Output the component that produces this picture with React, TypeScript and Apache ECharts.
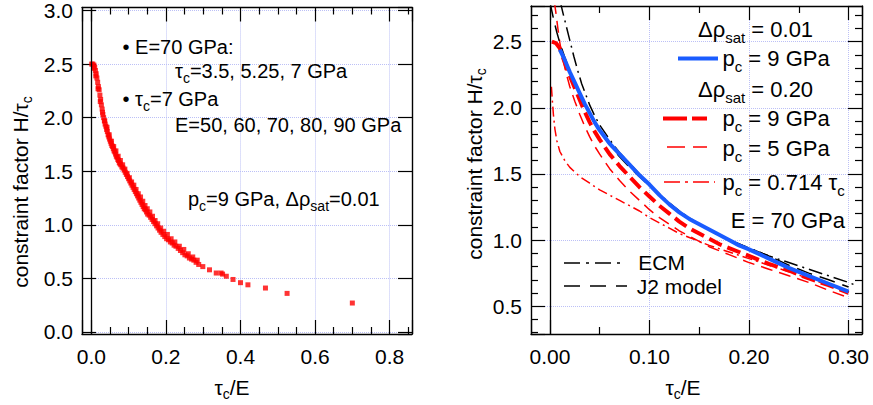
import React, { useEffect, useRef } from 'react';
import * as echarts from 'echarts';

const FONT = '"Liberation Sans", Arial, Helvetica, sans-serif';

const scatterPoints: [number, number][] = [
  [0.001, 2.50], [0.004, 2.50], [0.007, 2.49], [0.009, 2.47], [0.011, 2.44], [0.013, 2.41], [0.015, 2.37],
  [0.017, 2.33], [0.019, 2.29], [0.021, 2.26], [0.023, 2.21], [0.025, 2.17], [0.027, 2.12], [0.029, 2.08],
  [0.031, 2.03], [0.033, 2.00], [0.035, 1.97], [0.037, 1.94], [0.039, 1.92], [0.041, 1.89], [0.043, 1.87],
  [0.045, 1.84], [0.047, 1.82], [0.049, 1.80], [0.051, 1.78], [0.053, 1.76], [0.055, 1.74], [0.057, 1.73],
  [0.059, 1.71], [0.061, 1.69], [0.063, 1.68], [0.065, 1.66], [0.067, 1.64], [0.069, 1.63], [0.071, 1.61],
  [0.073, 1.60], [0.075, 1.58], [0.077, 1.57], [0.079, 1.56], [0.082, 1.54], [0.085, 1.53], [0.088, 1.51],
  [0.091, 1.49], [0.094, 1.47], [0.097, 1.45], [0.100, 1.43], [0.103, 1.41], [0.106, 1.39], [0.109, 1.37],
  [0.112, 1.35], [0.115, 1.33], [0.118, 1.31], [0.121, 1.29], [0.124, 1.27], [0.127, 1.25], [0.130, 1.23],
  [0.133, 1.21], [0.136, 1.19], [0.139, 1.17], [0.142, 1.15], [0.145, 1.14], [0.148, 1.12], [0.151, 1.10],
  [0.155, 1.09], [0.159, 1.07], [0.163, 1.05], [0.167, 1.03], [0.171, 1.01], [0.175, 0.99], [0.179, 0.97],
  [0.183, 0.95], [0.187, 0.93], [0.192, 0.91], [0.197, 0.89], [0.202, 0.87], [0.207, 0.86], [0.212, 0.84],
  [0.217, 0.83], [0.222, 0.81], [0.227, 0.80], [0.233, 0.78], [0.239, 0.76], [0.245, 0.74], [0.251, 0.72],
  [0.257, 0.71], [0.263, 0.69], [0.269, 0.68], [0.275, 0.67], [0.281, 0.65], [0.288, 0.63], [0.299, 0.61],
  [0.317, 0.58], [0.335, 0.55], [0.348, 0.55], [0.352, 0.54], [0.362, 0.52], [0.380, 0.49], [0.400, 0.46],
  [0.420, 0.44], [0.467, 0.41], [0.525, 0.36], [0.700, 0.27],
  [0.006, 2.46], [0.012, 2.39], [0.018, 2.27], [0.024, 2.15], [0.030, 2.05], [0.036, 1.97], [0.042, 1.91],
  [0.048, 1.84], [0.054, 1.78], [0.060, 1.73], [0.066, 1.69], [0.072, 1.64], [0.078, 1.60], [0.084, 1.56],
  [0.090, 1.52], [0.096, 1.48], [0.102, 1.44], [0.108, 1.40], [0.114, 1.37], [0.120, 1.33], [0.126, 1.29],
  [0.132, 1.26], [0.138, 1.22], [0.144, 1.18], [0.150, 1.15], [0.157, 1.12], [0.164, 1.08], [0.171, 1.04],
  [0.178, 1.01], [0.186, 0.97], [0.194, 0.94], [0.204, 0.91], [0.214, 0.87], [0.224, 0.84], [0.236, 0.80],
  [0.248, 0.77], [0.260, 0.73], [0.272, 0.70], [0.284, 0.67],
];

const blueCurve: [number, number][] = [
  [0.010, 2.44], [0.015, 2.36], [0.020, 2.27], [0.025, 2.19], [0.030, 2.11], [0.035, 2.03], [0.040, 1.96],
  [0.045, 1.89], [0.050, 1.83], [0.060, 1.73], [0.070, 1.65], [0.080, 1.57], [0.090, 1.49], [0.100, 1.42],
  [0.110, 1.34], [0.120, 1.27], [0.130, 1.21], [0.140, 1.16], [0.150, 1.12], [0.160, 1.08], [0.170, 1.04],
  [0.180, 1.00], [0.190, 0.96], [0.200, 0.93], [0.220, 0.86], [0.240, 0.79], [0.260, 0.73], [0.280, 0.67],
  [0.300, 0.61],
];
const ecmCurve: [number, number][] = [
  [0.0105, 2.80], [0.013, 2.72], [0.016, 2.63], [0.020, 2.51], [0.024, 2.39], [0.028, 2.28], [0.032, 2.18],
  [0.036, 2.10], [0.040, 2.02], [0.045, 1.94], [0.050, 1.87], [0.060, 1.76], [0.070, 1.66], [0.080, 1.58],
  [0.090, 1.50], [0.100, 1.42], [0.110, 1.35], [0.120, 1.28], [0.130, 1.22], [0.140, 1.17], [0.150, 1.12],
  [0.160, 1.08], [0.170, 1.04], [0.180, 1.00], [0.190, 0.97], [0.200, 0.94], [0.220, 0.88], [0.240, 0.83],
  [0.260, 0.78], [0.280, 0.73], [0.300, 0.68], [0.305, 0.665],
];
const j2Curve: [number, number][] = [
  [0.000, 2.80], [0.002, 2.73], [0.004, 2.66], [0.007, 2.57], [0.010, 2.49], [0.015, 2.38], [0.020, 2.28],
  [0.025, 2.19], [0.030, 2.10], [0.035, 2.02], [0.040, 1.95], [0.045, 1.88], [0.050, 1.82], [0.060, 1.72],
  [0.070, 1.63], [0.080, 1.55], [0.090, 1.48], [0.100, 1.41], [0.110, 1.34], [0.120, 1.28], [0.130, 1.22],
  [0.140, 1.16], [0.150, 1.12], [0.160, 1.08], [0.170, 1.04], [0.180, 1.00], [0.190, 0.97], [0.200, 0.94],
  [0.220, 0.88], [0.240, 0.81], [0.260, 0.75], [0.280, 0.70], [0.300, 0.645],
];
const redThickCurve: [number, number][] = [
  [0.002, 2.50], [0.006, 2.49], [0.010, 2.45], [0.015, 2.34], [0.020, 2.24], [0.025, 2.15], [0.030, 2.06],
  [0.035, 1.97], [0.040, 1.89], [0.045, 1.82], [0.050, 1.76], [0.060, 1.65], [0.070, 1.56], [0.080, 1.48],
  [0.090, 1.40], [0.100, 1.33], [0.110, 1.26], [0.120, 1.20], [0.130, 1.14], [0.140, 1.09], [0.150, 1.05],
  [0.160, 1.01], [0.170, 0.97], [0.180, 0.94], [0.190, 0.91], [0.200, 0.88], [0.220, 0.82], [0.240, 0.77],
  [0.260, 0.71], [0.280, 0.66], [0.300, 0.60],
];
const redThinCurve: [number, number][] = [
  [0.0045, 2.80], [0.006, 2.72], [0.008, 2.60], [0.010, 2.49], [0.013, 2.37], [0.016, 2.27], [0.020, 2.16],
  [0.025, 2.05], [0.030, 1.95], [0.035, 1.86], [0.040, 1.78], [0.045, 1.71], [0.050, 1.65], [0.060, 1.54],
  [0.070, 1.45], [0.080, 1.37], [0.090, 1.30], [0.100, 1.23], [0.110, 1.17], [0.120, 1.12], [0.130, 1.07],
  [0.140, 1.03], [0.150, 0.99], [0.160, 0.95], [0.170, 0.92], [0.180, 0.89], [0.200, 0.83], [0.220, 0.78],
  [0.240, 0.73], [0.260, 0.68], [0.280, 0.62], [0.300, 0.565],
];
const redDashDotCurve: [number, number][] = [
  [0.0015, 2.16], [0.0025, 2.05], [0.0035, 1.95], [0.005, 1.84], [0.007, 1.75], [0.010, 1.67], [0.015, 1.60],
  [0.020, 1.55], [0.030, 1.48], [0.040, 1.43], [0.050, 1.38], [0.060, 1.34], [0.070, 1.30], [0.080, 1.26],
  [0.090, 1.22], [0.100, 1.17], [0.110, 1.13], [0.120, 1.09], [0.130, 1.05], [0.140, 1.02], [0.160, 0.96],
  [0.180, 0.91], [0.200, 0.86], [0.220, 0.81], [0.240, 0.76], [0.260, 0.71], [0.280, 0.66], [0.300, 0.61],
];

const GRID_COLOR = '#bcc0f6';

function makeAxis(opts: {
  dim: 'x' | 'y'; gridIndex: number; position: string; min: number; max: number; step: number;
  minorSplit: number; decimals: number; labels: boolean; split: boolean;
}) {
  return {
    type: 'value',
    gridIndex: opts.gridIndex,
    position: opts.position,
    min: opts.min,
    max: opts.max,
    minInterval: opts.step,
    maxInterval: opts.step,
    splitNumber: 4,
    axisLine: { show: true, onZero: false, lineStyle: { color: '#000', width: 1.4 } },
    axisTick: { show: true, inside: true, length: 14, lineStyle: { color: '#000', width: 1.2 } },
    minorTick: {
      show: opts.minorSplit > 0, splitNumber: opts.minorSplit || 5, length: 7,
      lineStyle: { color: '#000', width: 1.2 },
    },
    minorSplitLine: { show: false },
    axisLabel: {
      show: opts.labels,
      margin: opts.dim === 'x' ? 12 : 9,
      fontSize: 21,
      fontFamily: FONT,
      color: '#000',
      showMinLabel: false,
      showMaxLabel: false,
      formatter: (v: number) => '{t|' + v.toFixed(opts.decimals) + '}',
      rich: { t: { fontSize: 21, fontFamily: FONT, color: '#000' } },
    },
    splitLine: {
      show: opts.split,
      showMinLine: false,
      showMaxLine: false,
      lineStyle: { color: GRID_COLOR, type: 'dotted', width: 1 },
    },
  };
}

function richText(x: number, y: number, text: string, main: number, sub: number, d: number,
  align: string = 'left', rotation: number = 0) {
  return {
    type: 'text',
    x, y, rotation,
    z: 10,
    style: {
      text,
      align,
      verticalAlign: 'middle',
      fill: '#000',
      rich: {
        m: { fontSize: main, fontFamily: FONT, fill: '#000', color: '#000' },
        s: { fontSize: sub, fontFamily: FONT, fill: '#000', color: '#000', padding: [2 * d, 0, 0, 0] },
      },
    },
  };
}

function sampleLine(x1: number, x2: number, y: number, color: string, width: number, dash: number[] | null) {
  return {
    type: 'line',
    z: 10,
    shape: { x1, y1: y, x2, y2: y },
    style: { stroke: color, lineWidth: width, lineDash: dash || undefined },
  };
}

function curveSeries(name: string, data: [number, number][], color: string, width: number, type: any) {
  return {
    name,
    type: 'line',
    xAxisIndex: 2,
    yAxisIndex: 2,
    data,
    showSymbol: false,
    symbol: 'none',
    smooth: false,
    clip: true,
    lineStyle: { color, width, type, cap: 'butt' },
  };
}

const zeroLine = {
  silent: true,
  symbol: ['none', 'none'],
  label: { show: false },
  lineStyle: { color: '#000', type: 'solid', width: 1.3 },
  data: [{ xAxis: 0 }],
};

export default function App() {
  const ref = useRef<HTMLDivElement>(null);
  useEffect(() => {
    const chart = echarts.init(ref.current!, null, { renderer: 'svg' });
    const option: any = {
      animation: false,
      backgroundColor: '#fff',
      grid: [
        { left: 82, top: 6, width: 330, height: 328, containLabel: false },
        { left: 531, top: 6, width: 331, height: 328, containLabel: false },
      ],
      xAxis: [
        makeAxis({ dim: 'x', gridIndex: 0, position: 'bottom', min: -0.025, max: 0.86, step: 0.2, minorSplit: 4, decimals: 1, labels: true, split: true }),
        makeAxis({ dim: 'x', gridIndex: 0, position: 'top', min: -0.025, max: 0.86, step: 0.2, minorSplit: 4, decimals: 1, labels: false, split: false }),
        makeAxis({ dim: 'x', gridIndex: 1, position: 'bottom', min: -0.019, max: 0.3135, step: 0.1, minorSplit: 2, decimals: 2, labels: true, split: true }),
        makeAxis({ dim: 'x', gridIndex: 1, position: 'top', min: -0.019, max: 0.3135, step: 0.1, minorSplit: 2, decimals: 2, labels: false, split: false }),
      ],
      yAxis: [
        makeAxis({ dim: 'y', gridIndex: 0, position: 'left', min: -0.019, max: 3.028, step: 0.5, minorSplit: 0, decimals: 1, labels: true, split: true }),
        makeAxis({ dim: 'y', gridIndex: 0, position: 'right', min: -0.019, max: 3.028, step: 0.5, minorSplit: 0, decimals: 1, labels: false, split: false }),
        makeAxis({ dim: 'y', gridIndex: 1, position: 'left', min: 0.29, max: 2.77, step: 0.5, minorSplit: 5, decimals: 1, labels: true, split: true }),
        makeAxis({ dim: 'y', gridIndex: 1, position: 'right', min: 0.29, max: 2.77, step: 0.5, minorSplit: 5, decimals: 1, labels: false, split: false }),
      ],
      series: [
        {
          name: 'scatter',
          type: 'scatter',
          xAxisIndex: 0,
          yAxisIndex: 0,
          data: scatterPoints,
          symbol: 'rect',
          symbolSize: 5,
          itemStyle: { color: '#ff0000' },
          markLine: zeroLine,
        },
        { ...curveSeries('pc = 0.714 τc', redDashDotCurve, '#ff0000', 1.5, [10, 4, 2, 4]), markLine: zeroLine },
        curveSeries('pc = 5 GPa', redThinCurve, '#ff0000', 1.5, [12, 7]),
        curveSeries('pc = 9 GPa (0.20)', redThickCurve, '#ff0000', 4, [14, 6]),
        curveSeries('J2 model', j2Curve, '#000', 1.5, [16, 8]),
        curveSeries('ECM', ecmCurve, '#000', 1.5, [14, 5, 2, 5]),
        curveSeries('pc = 9 GPa (0.01)', blueCurve, '#1a5cff', 4, 'solid'),
      ],
      graphic: [
        richText(20, 192, '{m|constraint factor H/τ}{s|c}', 21, 14, 7, 'center', Math.PI / 2),
        richText(474, 164, '{m|constraint factor H/τ}{s|c}', 21, 14, 7, 'center', Math.PI / 2),
        richText(232, 387, '{m|τ}{s|c}{m|/E}', 21, 14, 7, 'center'),
        richText(683, 387, '{m|τ}{s|c}{m|/E}', 21, 14, 7, 'center'),
        richText(122.5, 46.5, '{m|• E=70 GPa:}', 20, 14, 7),
        richText(175, 70.5, '{m|τ}{s|c}{m|=3.5, 5.25, 7 GPa}', 20, 14, 7),
        richText(122.5, 98.7, '{m|• τ}{s|c}{m|=7 GPa}', 20, 14, 7),
        richText(175, 125.3, '{m|E=50, 60, 70, 80, 90 GPa}', 20, 14, 7),
        richText(188, 198.7, '{m|p}{s|c}{m|=9 GPa, Δρ}{s|sat}{m|=0.01}', 20, 14, 7),
        richText(698, 29.7, '{m|Δρ}{s|sat}{m| = 0.01}', 22, 15, 8),
        sampleLine(678, 718, 58.5, '#1a5cff', 4, null),
        richText(722.5, 58.7, '{m|p}{s|c}{m| = 9 GPa}', 22, 15, 8),
        richText(698, 89.7, '{m|Δρ}{s|sat}{m| = 0.20}', 22, 15, 8),
        sampleLine(663, 707, 118.5, '#ff0000', 4, [24, 5]),
        richText(722.5, 118.8, '{m|p}{s|c}{m| = 9 GPa}', 22, 15, 8),
        sampleLine(667, 707, 147, '#ff0000', 1.5, [18, 8]),
        richText(722.5, 148, '{m|p}{s|c}{m| = 5 GPa}', 22, 15, 8),
        sampleLine(664, 715, 182, '#ff0000', 1.5, [16, 5, 3, 5]),
        richText(722.5, 182, '{m|p}{s|c}{m| = 0.714 τ}{s|c}', 22, 15, 8),
        richText(845, 220.3, '{m|E = 70 GPa}', 22, 15, 8, 'right'),
        sampleLine(564, 623, 263, '#000', 1.5, [16, 6, 3, 6]),
        richText(638.3, 262.5, '{m|ECM}', 21, 14, 7),
        sampleLine(564, 627, 286, '#000', 1.5, [16, 10]),
        richText(636.7, 286, '{m|J2 model}', 21, 14, 7),
      ],
    };
    chart.setOption(option);
    return () => chart.dispose();
  }, []);
  return (
    <div
      ref={ref}
      style={{ position: 'fixed', left: 0, top: 0, width: 873, height: 405, background: '#fff' }}
    />
  );
}
